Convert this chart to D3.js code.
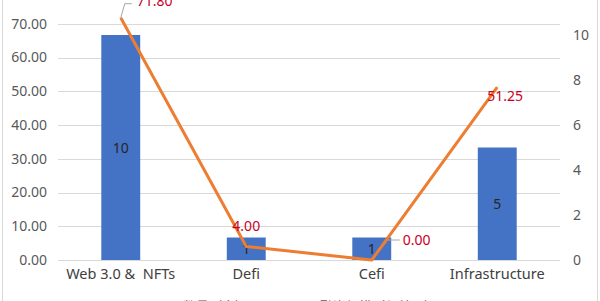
<!DOCTYPE html>
<html>
<head>
<meta charset="utf-8">
<script src="https://cdn.jsdelivr.net/npm/d3@7"></script>
<style>
  html, body { margin: 0; padding: 0; background: #fff; }
  svg { display: block; }
  text { font-family: "Noto Sans", "Noto Sans CJK SC", sans-serif; }
</style>
</head>
<body>
<svg id="chart" width="600" height="301"></svg>
<script>
// Sector breakdown: number of companies (bars, right axis) and funding in 亿美元 (line, left axis)
const categories = ["Web 3.0 &  NFTs", "Defi", "Cefi", "Infrastructure"];
const counts = [10, 1, 1, 5];
const funding = [71.80, 4.00, 0.00, 51.25];
const leftTicks = [0, 10, 20, 30, 40, 50, 60, 70];
const rightTicks = [0, 2, 4, 6, 8, 10];
const legendLabels = ["数量（家）", "融资规模（亿美元）"];

const svg = d3.select("#chart");
const plot = { left: 58, right: 560, top: -10, bottom: 260 };

const x = d3.scaleBand().domain(categories).range([plot.left, plot.right]).padding(0);
const yL = d3.scaleLinear().domain([0, 80]).range([plot.bottom, plot.top]);
const yR = d3.scaleLinear().domain([0, 12]).range([plot.bottom, plot.top]);
const barW = x.bandwidth() * 0.31;
const cx = c => x(c) + x.bandwidth() / 2;

// chart frame
svg.append("rect").attr("x", 2.5).attr("y", -20).attr("width", 595).attr("height", 340)
  .attr("fill", "#fff").attr("stroke", "#D9D9D9").attr("stroke-width", 1);

// gridlines (left axis)
svg.append("g").selectAll("line").data(leftTicks).join("line")
  .attr("x1", plot.left).attr("x2", plot.right)
  .attr("y1", d => Math.round(yL(d)) + 0.5).attr("y2", d => Math.round(yL(d)) + 0.5)
  .attr("stroke", "#D9D9D9").attr("stroke-width", 1.2);

// left axis labels
const axL = d3.axisLeft(yL).tickValues(leftTicks).tickFormat(d3.format(".2f")).tickSize(0).tickPadding(11);
const gL = svg.append("g").attr("transform", `translate(${plot.left},0)`).call(axL);
gL.select(".domain").remove();
gL.selectAll("text").attr("fill", "#595959").attr("font-size", 14);

// right axis labels
const axR = d3.axisRight(yR).tickValues(rightTicks).tickFormat(d3.format("d")).tickSize(0).tickPadding(13);
const gR = svg.append("g").attr("transform", `translate(${plot.right},0)`).call(axR);
gR.select(".domain").remove();
gR.selectAll("text").attr("fill", "#595959").attr("font-size", 14);

// category labels
const axX = d3.axisBottom(x).tickSize(0).tickPadding(9);
const gX = svg.append("g").attr("transform", `translate(0,${plot.bottom})`).call(axX);
gX.select(".domain").remove();
gX.selectAll("text").attr("fill", "#404040").attr("font-size", 14.5).style("white-space", "pre");

// bars
svg.append("g").selectAll("rect").data(categories).join("rect")
  .attr("x", c => cx(c) - barW / 2)
  .attr("width", barW)
  .attr("y", (c, i) => yR(counts[i]))
  .attr("height", (c, i) => yR(0) - yR(counts[i]))
  .attr("fill", "#4472C4");

// bar value labels
svg.append("g").selectAll("text").data(categories).join("text")
  .attr("x", c => cx(c))
  .attr("y", (c, i) => (yR(counts[i]) + yR(0)) / 2 + 5)
  .attr("text-anchor", "middle").attr("font-size", 14).attr("fill", "#262626")
  .text((c, i) => counts[i]);

// leader lines for line labels
const leaders = [
  [[cx(categories[0]), yL(funding[0])], [cx(categories[0]) + 4, yL(funding[0]) - 14], [cx(categories[0]) + 11, yL(funding[0]) - 14]],
  [[cx(categories[2]), yL(funding[2])], [cx(categories[2]) + 16, yL(funding[2]) - 20], [cx(categories[2]) + 28, yL(funding[2]) - 20]]
];
svg.append("g").selectAll("path").data(leaders).join("path")
  .attr("d", d => d3.line()(d))
  .attr("fill", "none").attr("stroke", "#A6A6A6").attr("stroke-width", 1);

// funding line
svg.append("path")
  .datum(categories)
  .attr("d", d3.line().x(c => cx(c)).y((c, i) => yL(funding[i])))
  .attr("fill", "none").attr("stroke", "#ED7D31").attr("stroke-width", 3).attr("stroke-linejoin", "round");

// funding labels
const offs = [[16, -12, "start"], [0, -16, "middle"], [31, -15, "start"], [8, 14, "middle"]];
svg.append("g").selectAll("text").data(categories).join("text")
  .attr("x", (c, i) => cx(c) + offs[i][0])
  .attr("y", (c, i) => yL(funding[i]) + offs[i][1])
  .attr("text-anchor", (c, i) => offs[i][2])
  .attr("font-size", 14).attr("fill", "#C8001E")
  .text((c, i) => d3.format(".2f")(funding[i]));

// legend (lower edge)
const lg = svg.append("g");
lg.append("rect").attr("x", 166).attr("y", 303).attr("width", 9).attr("height", 9).attr("fill", "#4472C4");
lg.append("text").attr("x", 183).attr("y", 311).attr("font-size", 13).attr("fill", "#595959").text(legendLabels[0]);
lg.append("line").attr("x1", 282).attr("x2", 312).attr("y1", 306).attr("y2", 306)
  .attr("stroke", "#ED7D31").attr("stroke-width", 3);
lg.append("text").attr("x", 320).attr("y", 311).attr("font-size", 13).attr("fill", "#595959").text(legendLabels[1]);
</script>
</body>
</html>
